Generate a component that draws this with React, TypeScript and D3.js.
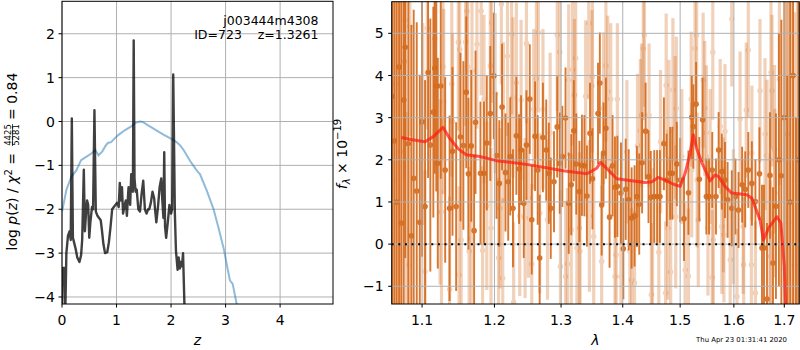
import * as d3 from 'd3';

// ---- left panel: log p(z) and scaled chi2 vs redshift ----
const pzCurve: [number, number][] = [
  [0.000, -4.4], [0.010, -3.34], [0.045, -3.34], [0.060, -4.4], [0.080, -3.0], [0.110, -2.6],
  [0.140, -2.5], [0.160, -2.7], [0.180, 0.07], [0.200, -2.65], [0.220, -2.75], [0.250, -2.9],
  [0.280, -3.1], [0.320, -3.2], [0.350, -3.05], [0.370, -2.7], [0.400, -1.1], [0.420, -2.5],
  [0.440, -2.1], [0.460, -1.8], [0.480, -1.9], [0.500, -2.65], [0.520, -2.3], [0.550, -1.95],
  [0.570, -2.0], [0.595, 0.26], [0.620, -2.05], [0.650, -2.15], [0.680, -2.2], [0.710, -2.25],
  [0.730, -2.45], [0.760, -2.8], [0.790, -3.0], [0.830, -2.98], [0.860, -2.75], [0.890, -2.4],
  [0.920, -2.0], [0.950, -1.95], [0.980, -1.9], [1.010, -1.85], [1.040, -1.95], [1.060, -1.4],
  [1.080, -1.8], [1.100, -1.5], [1.120, -2.1], [1.150, -1.9], [1.170, -1.8], [1.190, -2.15],
  [1.220, -1.5], [1.250, -1.9], [1.270, -1.2], [1.300, -1.6], [1.315, 1.85], [1.330, -1.3],
  [1.350, -1.6], [1.370, -1.55], [1.400, -2.0], [1.430, -2.05], [1.460, -1.65], [1.490, -1.35],
  [1.520, -2.0], [1.550, -2.1], [1.580, -2.0], [1.600, -2.0], [1.630, -1.85], [1.660, -1.6],
  [1.690, -1.75], [1.710, -2.05], [1.730, -2.3], [1.760, -1.95], [1.790, -1.5], [1.820, -1.3],
  [1.840, -1.8], [1.860, -2.2], [1.875, -0.7], [1.890, -2.4], [1.910, -2.65], [1.940, -2.3],
  [1.970, -1.9], [2.000, -2.1], [2.020, -2.0], [2.040, 1.07], [2.070, -2.1], [2.090, -2.95],
  [2.120, -3.38], [2.140, -3.1], [2.160, -3.35], [2.180, -3.2], [2.200, -3.3], [2.220, -3.0],
  [2.250, -4.4],
];

const chiCurve: [number, number][] = [
  [0.00, -2.05], [0.02, -1.94], [0.08, -1.56], [0.17, -1.26], [0.26, -1.12], [0.35, -0.88],
  [0.45, -0.80], [0.54, -0.73], [0.61, -0.65], [0.67, -0.77], [0.74, -0.68], [0.80, -0.55],
  [0.84, -0.49], [0.90, -0.47], [0.97, -0.38], [1.03, -0.31], [1.15, -0.20], [1.27, -0.11],
  [1.35, -0.03], [1.43, 0.00], [1.48, -0.01], [1.58, -0.09], [1.73, -0.20], [1.86, -0.30],
  [1.98, -0.38], [2.04, -0.42], [2.10, -0.47], [2.17, -0.55], [2.23, -0.65], [2.35, -0.90],
  [2.45, -1.08], [2.50, -1.16], [2.53, -1.20], [2.65, -1.56], [2.78, -2.00], [2.87, -2.42],
  [2.97, -2.92], [3.04, -3.38], [3.08, -3.62], [3.13, -3.70], [3.21, -4.20],
];

const zTicks = [0, 1, 2, 3, 4];
const logpTicks = [-4, -3, -2, -1, 0, 1, 2];

// ---- right panel: spectrum [lambda um, flux, err] ----
const darkPts: [number, number, number][] = [
  [1.061, 3.5, 6], [1.064, 2.45, 6], [1.067, 1.0, 6], [1.070, 4.2, 6], [1.073, 0.5, 6],
  [1.076, 3.42, 5], [1.078, 4.67, 5], [1.082, 2.38, 5], [1.086, 0.20, 5], [1.089, 1.56, 4],
  [1.093, 1.26, 4], [1.097, 0.52, 3.5], [1.100, 2.9, 3.2], [1.104, 0.89, 3], [1.108, 4.07, 2.5],
  [1.111, 2.35, 3], [1.115, 3.13, 2.5], [1.117, 4.17, 2.5], [1.119, 3.75, 2.5], [1.121, 1.92, 2.5],
  [1.125, 3.75, 2.2], [1.131, 1.76, 2.2], [1.137, 0.85, 2.2], [1.141, 2.2, 2.0], [1.146, 0.89, 2.0],
  [1.152, 2.54, 2.0], [1.156, 2.34, 2.0], [1.160, 3.60, 1.8], [1.163, 1.67, 1.8], [1.167, 2.33, 1.8],
  [1.171, 0.32, 1.8], [1.173, 2.89, 1.7], [1.180, 1.68, 1.7], [1.185, 1.68, 1.7], [1.189, 2.4, 1.6],
  [1.194, 3.10, 1.6], [1.199, 3.99, 1.5], [1.203, 2.1, 1.5], [1.207, 1.44, 1.5], [1.211, 3.25, 1.5],
  [1.216, 1.70, 1.4], [1.220, 1.48, 1.4], [1.223, 2.08, 1.4], [1.227, 0.85, 1.4], [1.232, 2.57, 1.4],
  [1.236, 1.78, 1.3], [1.239, 2.23, 1.3], [1.243, 0.97, 1.3], [1.247, 2.35, 1.3], [1.252, 3.44, 1.3],
  [1.255, 0.58, 1.3], [1.260, 2.56, 1.3], [1.264, 1.76, 1.3], [1.267, -0.33, 1.5], [1.272, 2.53, 1.3],
  [1.277, 2.23, 1.2], [1.281, 1.68, 1.2], [1.284, 0.85, 1.2], [1.289, 1.48, 1.2], [1.294, 2.78, 1.2],
  [1.298, 1.92, 1.2], [1.302, 2.08, 1.2], [1.307, 2.99, 1.2], [1.312, 0.97, 1.2], [1.316, 1.41, 1.2],
  [1.320, 2.69, 1.2], [1.324, 1.90, 1.2], [1.329, 1.25, 1.2], [1.333, 1.87, 1.2], [1.337, 1.86, 1.2],
  [1.341, 1.14, 1.2], [1.346, 2.63, 1.2], [1.350, 1.55, 1.2], [1.359, 3.10, 1.2], [1.362, 3.82, 1.2],
  [1.365, 0.93, 1.2], [1.368, 2.16, 1.2], [1.372, 2.75, 1.2], [1.378, 0.64, 1.2], [1.383, 1.86, 1.2],
  [1.387, 1.35, 1.2], [1.391, 1.37, 1.2], [1.397, 1.21, 1.2], [1.401, -0.11, 1.2], [1.405, 1.30, 1.2],
  [1.410, 1.05, 1.2], [1.415, 0.62, 1.2], [1.420, 0.67, 1.2], [1.424, 1.13, 1.2], [1.428, 0.95, 1.2],
  [1.433, 1.93, 1.2], [1.439, 2.68, 1.15], [1.444, 1.60, 1.1], [1.448, 1.11, 1.1], [1.454, 1.13, 1.1],
  [1.459, 1.13, 1.1], [1.464, 1.13, 1.1], [1.471, 2.38, 1.1], [1.476, 1.52, 1.1], [1.482, 1.68, 1.1],
  [1.486, 1.68, 1.1], [1.494, 1.9, 1.0], [1.500, 1.52, 1.0], [1.507, 0.60, 1.0], [1.515, 1.22, 1.0],
  [1.521, 3.01, 1.0], [1.524, 2.79, 1.0], [1.529, 3.32, 1.0], [1.535, 1.54, 1.0], [1.541, 2.95, 1.0],
  [1.548, 1.13, 0.9], [1.553, 1.13, 0.9], [1.559, 1.76, 0.9], [1.566, 1.13, 0.9], [1.571, 2.23, 0.9],
  [1.577, 1.72, 0.9], [1.583, 1.52, 0.9], [1.588, 1.05, 0.9], [1.596, 0.85, 0.9], [1.603, 1.13, 0.9],
  [1.609, 0.81, 0.9], [1.616, 1.41, 0.9], [1.622, 1.30, 0.9], [1.628, 1.76, 0.9], [1.635, 1.44, 1.0],
  [1.642, 1.01, 1.0], [1.650, 1.67, 1.1], [1.655, -0.09, 1.5], [1.659, -0.09, 1.5], [1.665, -1.3, 1.8],
  [1.671, 1.63, 1.5], [1.677, -0.45, 1.8], [1.683, 0.9, 2.2], [1.689, 2.0, 3.0], [1.694, 1.62, 3.7],
  [1.700, 3.0, 6], [1.706, -2.0, 6], [1.712, 1.0, 6], [1.718, 4.0, 6], [1.724, -3.0, 6], [1.729, 2.0, 6],
];

const lightPts: [number, number, number][] = [
  [1.062, 1.5, 6], [1.066, 3.8, 6], [1.072, 2.2, 5], [1.077, 4.33, 2.8], [1.078, 5.31, 2.8],
  [1.079, 0.34, 2.8], [1.083, -0.49, 2.8], [1.084, 5.17, 2.6], [1.101, 2.85, 2.4], [1.104, -0.65, 2.4],
  [1.107, 5.12, 2.4], [1.117, 4.88, 2.3], [1.124, 1.24, 2.2], [1.126, 0.77, 2.2], [1.128, 4.21, 2.2],
  [1.129, 3.38, 2.2], [1.137, -1.07, 2.2], [1.140, 3.80, 2.2], [1.141, 2.91, 2.1], [1.149, 4.79, 2.1],
  [1.150, -0.73, 2.1], [1.151, 4.62, 2.1], [1.153, 0.10, 2.1], [1.159, 4.80, 2.0], [1.161, 5.53, 2.0],
  [1.162, 4.21, 2.0], [1.164, -0.17, 2.0], [1.167, 0.12, 2.0], [1.168, 4.11, 2.0], [1.175, 4.74, 2.0],
  [1.181, 5.53, 2.0], [1.183, -0.15, 2.0], [1.185, 3.44, 2.0], [1.189, 0.91, 2.0], [1.194, 4.23, 1.9],
  [1.195, 0.38, 1.9], [1.196, 5.25, 1.9], [1.201, 3.58, 1.9], [1.206, -0.33, 1.9], [1.208, 0.85, 1.9],
  [1.210, 5.69, 1.9], [1.212, -0.81, 1.9], [1.213, 2.89, 1.9], [1.219, 4.46, 1.9], [1.225, 4.98, 1.9],
  [1.227, 3.48, 1.9], [1.228, -1.38, 1.9], [1.232, 3.83, 1.9], [1.237, 0.67, 1.9], [1.239, 3.42, 1.9],
  [1.245, 0.62, 1.9], [1.247, 4.76, 1.9], [1.250, 1.10, 1.9], [1.255, -0.47, 1.9], [1.258, 3.20, 1.9],
  [1.262, 3.93, 1.9], [1.265, 5.02, 1.9], [1.267, 0.73, 1.9], [1.272, 3.20, 1.9], [1.279, 0.58, 1.9],
  [1.283, 2.64, 1.9], [1.294, 4.96, 1.8], [1.298, 4.55, 1.8], [1.299, -0.53, 1.8], [1.307, -0.77, 1.8],
  [1.310, -0.47, 1.8], [1.312, 3.89, 1.8], [1.316, 0.34, 1.8], [1.318, 4.14, 1.8], [1.321, 3.54, 1.8],
  [1.323, 4.41, 1.8], [1.325, -0.09, 1.8], [1.329, 0.38, 1.8], [1.330, -0.17, 1.8], [1.339, 3.51, 1.8],
  [1.344, 5.24, 1.8], [1.345, 0.67, 1.8], [1.349, 3.75, 1.8], [1.350, 3.97, 1.8], [1.352, 0.18, 1.8],
  [1.365, -0.41, 1.8], [1.368, 3.22, 1.8], [1.372, 4.23, 1.8], [1.375, 3.62, 1.8], [1.380, 3.44, 1.8],
  [1.387, -0.77, 1.8], [1.389, -0.25, 1.8], [1.391, 3.44, 1.8], [1.397, -0.77, 1.8], [1.407, 2.19, 1.7],
  [1.412, -0.17, 1.7], [1.415, -0.85, 1.7], [1.420, -0.92, 1.7], [1.425, 2.34, 1.7], [1.430, 2.69, 1.7],
  [1.432, 3.06, 1.7], [1.435, 4.64, 1.7], [1.437, 4.96, 1.7], [1.445, 3.06, 1.7], [1.449, -1.20, 1.7],
  [1.451, 0.10, 1.7], [1.462, -0.19, 1.7], [1.465, 2.43, 1.7], [1.474, -1.16, 1.7], [1.475, 3.77, 1.7],
  [1.478, 0.38, 1.7], [1.480, 2.67, 1.7], [1.483, -0.66, 1.7], [1.487, 3.66, 1.7], [1.491, 2.76, 1.7],
  [1.492, 0.65, 1.7], [1.493, 3.22, 1.7], [1.503, 2.08, 1.6], [1.509, -0.61, 1.6], [1.515, -0.76, 1.6],
  [1.520, 3.44, 1.6], [1.521, 1.76, 1.6], [1.527, 4.64, 1.6], [1.530, 4.96, 1.6], [1.531, 1.52, 1.6],
  [1.533, 0.58, 1.6], [1.542, 3.89, 1.6], [1.545, 3.22, 1.6], [1.548, 2.64, 1.6], [1.551, 0.38, 1.6],
  [1.555, 2.08, 1.6], [1.559, -0.79, 1.6], [1.560, 4.55, 1.6], [1.561, 0.10, 1.6], [1.574, 2.79, 1.6],
  [1.577, 0.42, 1.6], [1.580, 0.93, 1.6], [1.581, 0.22, 1.6], [1.583, 2.67, 1.6], [1.593, -0.37, 1.6],
  [1.596, 5.34, 1.6], [1.599, 0.65, 1.6], [1.606, -1.24, 1.6], [1.612, 2.97, 1.6], [1.618, 0.42, 1.6],
  [1.619, -0.49, 1.6], [1.624, 3.18, 1.6], [1.628, 4.60, 1.6], [1.634, -0.49, 1.6], [1.635, 2.16, 1.6],
  [1.642, -1.16, 1.7], [1.651, 3.64, 1.7], [1.661, 2.61, 1.8], [1.665, 2.10, 1.8], [1.671, 0.26, 1.8],
  [1.672, -0.29, 1.8], [1.673, 4.07, 1.8], [1.675, 3.64, 1.8], [1.680, 2.25, 2.0], [1.681, 1.21, 2.0],
  [1.690, 3.91, 2.5], [1.703, 2.0, 6], [1.706, 2.61, 6], [1.709, 0.5, 6], [1.715, 3.0, 6],
  [1.721, -0.5, 6], [1.727, 1.5, 6],
];

// best-fit model
const modelCurve: [number, number][] = [
  [1.073, 2.53], [1.085, 2.48], [1.104, 2.43], [1.115, 2.55], [1.128, 2.77], [1.137, 2.51],
  [1.149, 2.26], [1.160, 2.12], [1.179, 2.08], [1.203, 1.98], [1.252, 1.88], [1.303, 1.74],
  [1.341, 1.67], [1.357, 1.80], [1.363, 1.94], [1.373, 1.80], [1.390, 1.55], [1.412, 1.51],
  [1.438, 1.46], [1.450, 1.48], [1.461, 1.58], [1.473, 1.52], [1.488, 1.42], [1.500, 1.37],
  [1.509, 1.68], [1.518, 2.16], [1.524, 2.59], [1.530, 2.27], [1.540, 1.92], [1.555, 1.50],
  [1.564, 1.64], [1.571, 1.60], [1.583, 1.37], [1.596, 1.21], [1.625, 1.17], [1.635, 1.09],
  [1.651, 0.58], [1.658, 0.10], [1.668, 0.38], [1.685, 0.65], [1.693, 0.50], [1.700, -0.53],
  [1.703, -1.6],
];

const lamTicks = [1.1, 1.2, 1.3, 1.4, 1.5, 1.6, 1.7];
const fluxTicks = [-1, 0, 1, 2, 3, 4, 5];

const ORANGE = '#d4691a';
const GRID = '#b0b0b0';
const FONT = 'DejaVu Sans, sans-serif';

export default function App() {
  const L = { x0: 62, x1: 333, y0: 1.3, y1: 304 };
  const R = { x0: 391.7, x1: 799.3, y0: 1.7, y1: 304 };

  const xL = d3.scaleLinear().domain([0, 4.97]).range([L.x0, L.x1]);
  const yL = d3.scaleLinear().domain([-4.16, 2.74]).range([L.y1, L.y0]);
  const xR = d3.scaleLog().domain([1.0606, 1.7309]).range([R.x0, R.x1]);
  const yR = d3.scaleLinear().domain([-1.42, 5.75]).range([R.y1, R.y0]);

  const lineL = d3.line<[number, number]>().x(d => xL(d[0])).y(d => yL(d[1]));
  const lineR = d3.line<[number, number]>().x(d => xR(d[0])).y(d => yR(d[1]));
  const fmtInt = d3.format('d');
  const fmt1 = d3.format('.1f');

  const tickLen = 3.5;

  return (
    <svg width={800} height={350} style={{ position: 'absolute', left: 0, top: 0, background: '#fff' }}
      fontFamily={FONT}>
      <defs>
        <clipPath id="clipL"><rect x={L.x0} y={L.y0} width={L.x1 - L.x0} height={L.y1 - L.y0} /></clipPath>
        <clipPath id="clipR"><rect x={R.x0} y={R.y0} width={R.x1 - R.x0} height={R.y1 - R.y0} /></clipPath>
      </defs>

      {/* ---------- left panel ---------- */}
      <g>
        {zTicks.map(t => (
          <line key={'gz' + t} x1={xL(t)} x2={xL(t)} y1={L.y0} y2={L.y1} stroke={GRID} strokeWidth={1} />
        ))}
        {logpTicks.map(t => (
          <line key={'gp' + t} x1={L.x0} x2={L.x1} y1={yL(t)} y2={yL(t)} stroke={GRID} strokeWidth={1} />
        ))}
        <g clipPath="url(#clipL)">
          <path d={lineL(chiCurve) || ''} fill="none" stroke="#1f77b4" strokeOpacity={0.5} strokeWidth={2} />
          <path d={lineL(pzCurve) || ''} fill="none" stroke="#000" strokeOpacity={0.75} strokeWidth={2.4}
            strokeLinejoin="round" />
        </g>
        <rect x={L.x0} y={L.y0} width={L.x1 - L.x0} height={L.y1 - L.y0} fill="none" stroke="#000" strokeWidth={1} />
        {zTicks.map(t => (
          <g key={'tz' + t}>
            <line x1={xL(t)} x2={xL(t)} y1={L.y1} y2={L.y1 + tickLen} stroke="#000" />
            <text x={xL(t)} y={325} fontSize={14} textAnchor="middle">{fmtInt(t)}</text>
          </g>
        ))}
        {logpTicks.map(t => (
          <g key={'tp' + t}>
            <line x1={L.x0 - tickLen} x2={L.x0} y1={yL(t)} y2={yL(t)} stroke="#000" />
            <text x={L.x0 - 7} y={yL(t)} dy="0.36em" fontSize={14} textAnchor="end">{fmtInt(t)}</text>
          </g>
        ))}
        <text x={(L.x0 + L.x1) / 2} y={345} fontSize={14} fontStyle="italic" textAnchor="middle">z</text>
        <g transform="translate(17,152) rotate(-90)" fontSize={14}>
          <text x={-1} textAnchor="end">
            log <tspan fontStyle="italic">p</tspan>(<tspan fontStyle="italic">z</tspan>) / <tspan fontStyle="italic">χ</tspan>
            <tspan fontSize={10} dy={-5}>2</tspan><tspan dy={5}> =</tspan>
          </text>
          <text x={17} y={-5.6} fontSize={8.5} textAnchor="middle">4425</text>
          <line x1={6} x2={28} y1={-4.5} y2={-4.5} stroke="#000" strokeWidth={0.7} />
          <text x={17} y={2.4} fontSize={8.5} textAnchor="middle">5281</text>
          <text x={32}>= 0.84</text>
        </g>
        <text x={318.5} y={24.5} fontSize={12.5} textAnchor="end">j003444m4308</text>
        <text x={318.5} y={38.5} fontSize={12.5} textAnchor="end" style={{ whiteSpace: 'pre' }}>ID=723    z=1.3261</text>
      </g>

      {/* ---------- right panel ---------- */}
      <g>
        <g clipPath="url(#clipR)">
          {lightPts.map((d, i) => (
            <g key={'l' + i} opacity={0.3}>
              <line x1={xR(d[0])} x2={xR(d[0])} y1={yR(d[1] - d[2])} y2={yR(d[1] + d[2])}
                stroke={ORANGE} strokeWidth={3.2} />
              <circle cx={xR(d[0])} cy={yR(d[1])} r={2.7} fill={ORANGE} />
            </g>
          ))}
          {darkPts.map((d, i) => (
            <g key={'d' + i} opacity={0.9}>
              <line x1={xR(d[0])} x2={xR(d[0])} y1={yR(d[1] - d[2])} y2={yR(d[1] + d[2])}
                stroke={ORANGE} strokeWidth={1.9} />
              <circle cx={xR(d[0])} cy={yR(d[1])} r={2.8} fill={ORANGE} />
            </g>
          ))}
          {lamTicks.map(t => (
            <line key={'gl' + t} x1={xR(t)} x2={xR(t)} y1={R.y0} y2={R.y1} stroke={GRID} strokeWidth={1} />
          ))}
          {fluxTicks.map(t => (
            <line key={'gf' + t} x1={R.x0} x2={R.x1} y1={yR(t)} y2={yR(t)} stroke={GRID} strokeWidth={1} />
          ))}
          <line x1={R.x0} x2={R.x1} y1={yR(0)} y2={yR(0)} stroke="#000" strokeWidth={2}
            strokeDasharray="2 4.6" />
          <path d={lineR(modelCurve) || ''} fill="none" stroke="#ff1a10" strokeOpacity={0.72} strokeWidth={3}
            strokeLinejoin="round" />
        </g>
        <rect x={R.x0} y={R.y0} width={R.x1 - R.x0} height={R.y1 - R.y0} fill="none" stroke="#000" strokeWidth={1} />
        {lamTicks.map(t => (
          <g key={'tl' + t}>
            <line x1={xR(t)} x2={xR(t)} y1={R.y1} y2={R.y1 + tickLen} stroke="#000" />
            <text x={xR(t)} y={325} fontSize={14} textAnchor="middle">{fmt1(t)}</text>
          </g>
        ))}
        {fluxTicks.map(t => (
          <g key={'tf' + t}>
            <line x1={R.x0 - tickLen} x2={R.x0} y1={yR(t)} y2={yR(t)} stroke="#000" />
            <text x={R.x0 - 8} y={yR(t)} dy="0.36em" fontSize={14} textAnchor="end">{fmtInt(t)}</text>
          </g>
        ))}
        <text x={(R.x0 + R.x1) / 2} y={345} fontSize={14} fontStyle="italic" textAnchor="middle">λ</text>
        <g transform="translate(347,154) rotate(-90)">
          <text textAnchor="middle" fontSize={14}>
            <tspan fontStyle="italic">f</tspan>
            <tspan fontStyle="italic" fontSize={10} dy={3}>λ</tspan>
            <tspan dy={-3}> × 10</tspan>
            <tspan fontSize={10} dy={-6}>−19</tspan>
          </text>
        </g>
        <text x={787} y={341.5} fontSize={6.9} textAnchor="end">Thu Apr 23 01:31:41 2020</text>
      </g>
    </svg>
  );
}
